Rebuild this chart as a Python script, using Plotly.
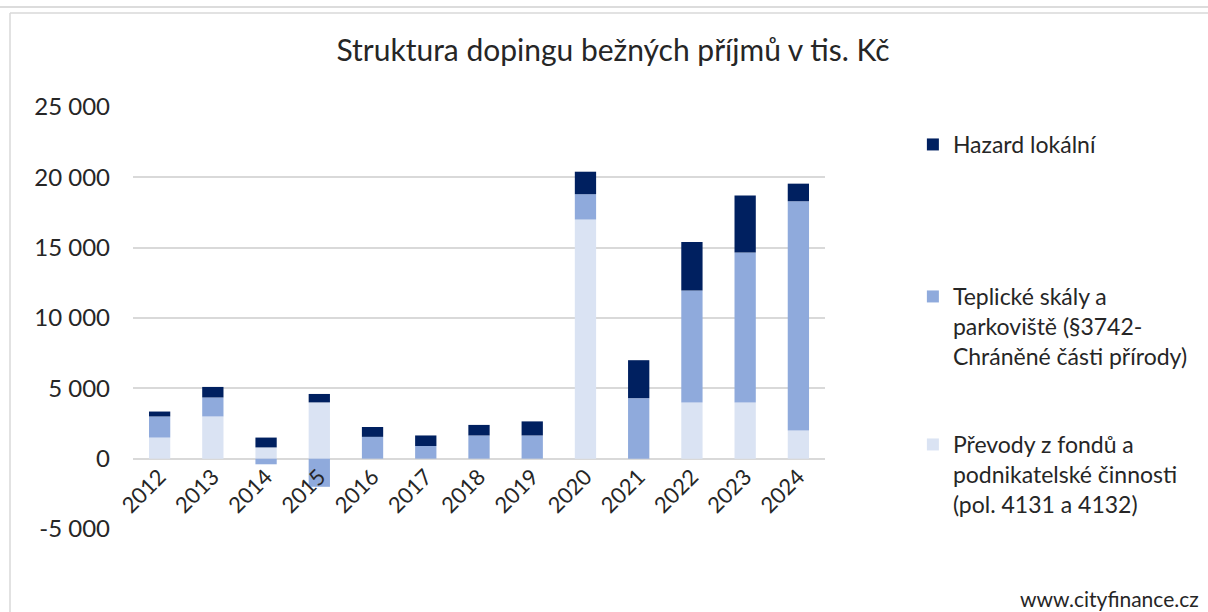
import plotly.graph_objects as go

years = ["2012", "2013", "2014", "2015", "2016", "2017", "2018", "2019",
         "2020", "2021", "2022", "2023", "2024"]
prevody = [1500, 3000, 800, 4000, 0, 0, 0, 0, 17000, 0, 4000, 4000, 2000]
teplicke = [1500, 1350, -400, -2000, 1550, 900, 1650, 1650, 1800, 4300, 7950, 10650, 16300]
hazard = [350, 750, 700, 600, 700, 750, 750, 1000, 1600, 2700, 3450, 4050, 1250]

y_ticks = [-5000, 0, 5000, 10000, 15000, 20000, 25000]
y_tick_labels = ["-5 000", "0", "5 000", "10 000", "15 000", "20 000", "25 000"]

name_prevody = "Převody z fondů a<br>podnikatelské činnosti<br>(pol. 4131 a 4132)"
name_teplicke = "Teplické skály a<br>parkoviště (§3742-<br>Chráněné části přírody)"
name_hazard = "Hazard lokální"

FONT = "Lato"
TXT = "#262626"

fig = go.Figure()
fig.add_trace(go.Bar(x=years, y=prevody, name=name_prevody, showlegend=True,
                     marker=dict(color="#dae3f3", line=dict(width=0)), legend="legend4"))
fig.add_trace(go.Bar(x=years, y=teplicke, name=name_teplicke, showlegend=True,
                     marker=dict(color="#8faadc", line=dict(width=0)), legend="legend3"))
fig.add_trace(go.Bar(x=years, y=hazard, name=name_hazard, showlegend=True,
                     marker=dict(color="#002060", line=dict(width=0)), legend="legend2"))

leg_common = dict(x=1.127, xanchor="left", yanchor="top", bgcolor="rgba(0,0,0,0)",
                  font=dict(family=FONT, size=23, color=TXT), itemwidth=30, valign="top")

fig.update_layout(
    width=1208, height=612,
    barmode="relative", bargap=0.6,
    showlegend=True,
    paper_bgcolor="white", plot_bgcolor="white",
    margin=dict(l=133, r=383, t=107, b=83),
    title=dict(text="Struktura dopingu bežných příjmů v tis. Kč", x=613/1208, xref="container",
               xanchor="center", y=1 - 50/612, yref="container", yanchor="middle",
               font=dict(family=FONT, size=30, color=TXT)),
    font=dict(family=FONT, color=TXT),
    legend2=dict(y=(529 - 123) / 422, **leg_common),
    legend3=dict(y=(529 - 275) / 422, **leg_common),
    legend4=dict(y=(529 - 423) / 422, **leg_common),
    xaxis=dict(type="category", tickangle=-45, anchor="free", position=1/6,
               showline=False, ticks="", tickfont=dict(family=FONT, size=22, color=TXT),
               showgrid=False),
    yaxis=dict(range=[-5000, 25000], tickmode="array", tickvals=y_ticks, ticktext=y_tick_labels,
               showgrid=True, gridcolor="#d9d9d9", gridwidth=1.5, zeroline=True,
               zerolinecolor="#d9d9d9", zerolinewidth=1.5, ticks="", ticklabelstandoff=22,
               tickfont=dict(family=FONT, size=24, color=TXT)),
    annotations=[dict(text="www.cityfinance.cz", xref="paper", yref="paper",
                      x=(1201 - 133) / 692, y=(529 - 598) / 422, xanchor="right",
                      yanchor="middle", showarrow=False,
                      font=dict(family=FONT, size=21, color=TXT))],
    shapes=[
        dict(type="line", xref="paper", yref="paper", x0=-133/692, x1=(1208-133)/692,
             y0=(529 - 7) / 422, y1=(529 - 7) / 422, line=dict(color="#d0d0d0", width=1.5)),
        dict(type="line", xref="paper", yref="paper", x0=(10-133)/692, x1=(10-133)/692,
             y0=(529 - 13) / 422, y1=(529 - 612) / 422, line=dict(color="#d9d9d9", width=1.5)),
        dict(type="line", xref="paper", yref="paper", x0=(10-133)/692, x1=(1208-133)/692,
             y0=(529 - 13) / 422, y1=(529 - 13) / 422, line=dict(color="#d9d9d9", width=1.5)),
    ],
)

fig.write_html("out.html", config={"displayModeBar": False},
               post_script="document.body.style.margin='0px';document.body.style.overflow='hidden';")
